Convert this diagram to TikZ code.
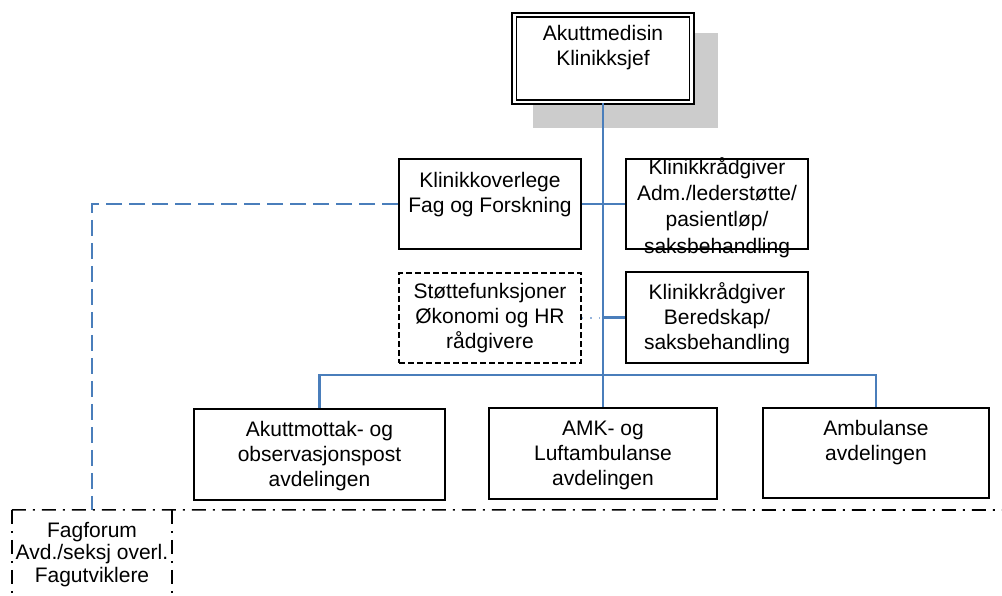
\documentclass[tikz,border=0pt]{standalone}
\usepackage{fontspec}
\setmainfont{Liberation Sans}
\usetikzlibrary{calc}
\definecolor{conblue}{RGB}{74,126,187}
\definecolor{dotblue}{RGB}{150,180,220}
\definecolor{shadowgray}{RGB}{204,204,204}
\tikzset{
  box/.style={draw=black, fill=white, line width=1.8pt, inner sep=0pt},
  dbox/.style={draw=black, fill=white, line width=1.6pt, inner sep=0pt, dash pattern=on 6pt off 3pt},
  topbox/.style={draw=black, fill=white, line width=1.6pt, double=white, double distance=2.8pt, inner sep=0pt},
  txt/.style={font=\fontsize{21}{25}\selectfont, align=center, inner sep=0pt, anchor=north},
  conn/.style={draw=conblue, line width=2.2pt},
  dconn/.style={draw=conblue, line width=2.2pt, dash pattern=on 16pt off 7pt},
  dotconn/.style={draw=dotblue, line width=1.8pt, dash pattern=on 1.5pt off 7pt},
  dashdot/.style={draw=black, line width=1.6pt, dash pattern=on 14pt off 7pt on 2pt off 7pt},
}
\begin{document}
\begin{tikzpicture}[x=1pt, y=-1pt]
\useasboundingbox (0,0) rectangle (1002,596);
% shadow
\fill[shadowgray] (533,33) rectangle (718,128);
% top box
\node[topbox, minimum width=177.5pt, minimum height=87pt] (top) at (603,58.5) {};
\node[txt] (topt) at (603,25) {Akuttmedisin\\Klinikksjef};
% second level boxes
\node[box, minimum width=182pt, minimum height=90pt] (overlege) at (490,204) {};
\node[box, minimum width=182pt, minimum height=90pt] (adm) at (717,204) {};
\node[dbox, minimum width=182pt, minimum height=90pt] (stotte) at (490,318) {};
\node[box, minimum width=182pt, minimum height=91pt] (bered) at (717,317.5) {};
% bottom boxes
\node[box, minimum width=251pt, minimum height=91pt] (akutt) at (319.5,454.5) {};
\node[box, minimum width=228pt, minimum height=91pt] (amk) at (603,453.5) {};
\node[box, minimum width=226pt, minimum height=90pt] (amb) at (876,453) {};
% fagforum area
\node[inner sep=0pt, minimum width=160pt, minimum height=86pt] (fag) at (92,553) {};
\coordinate (bus) at (603,375);
\coordinate (right) at (1002,510);
% connectors
\draw[conn] (top.south) -- (amk.north);
\draw[conn] (overlege.east) -- (adm.west);
\draw[conn] (bered.west) -- (bered.west -| top.south);
\draw[dotconn] (stotte.east) -- (stotte.east -| top.south);
\draw[conn] (akutt.north) |- (bus) -| (amb.north);
\draw[dconn] (overlege.west) -| (fag.north);
% dash-dot frame
\draw[dashdot] (fag.north west) -- (right);
\draw[dashdot] (fag.north west) -- (fag.south west);
\draw[dashdot] (fag.north east) -- (fag.south east);
% texts
\node[txt] (overleget) at (490,172) {Klinikkoverlege\\Fag og Forskning};
\node[txt, font=\fontsize{21}{26.3}\selectfont] (admt) at (717,157) {Klinikkrådgiver\\Adm./lederstøtte/\\pasientløp/\\saksbehandling};
\node[txt] (stottet) at (490,283) {Støttefunksjoner\\Økonomi og HR\\rådgivere};
\node[txt] (beredt) at (717,282) {Klinikkrådgiver\\Beredskap/\\saksbehandling};
\node[txt] (akuttt) at (319.5,421) {Akuttmottak- og\\observasjonspost\\avdelingen};
\node[txt] (amkt) at (603,421) {AMK- og\\Luftambulanse\\avdelingen};
\node[txt] (ambt) at (876,420) {Ambulanse\\avdelingen};
\node[txt, font=\fontsize{21}{22.5}\selectfont] (fagt) at (92,522) {Fagforum\\Avd./seksj overl.\\Fagutviklere};
\end{tikzpicture}
\end{document}
